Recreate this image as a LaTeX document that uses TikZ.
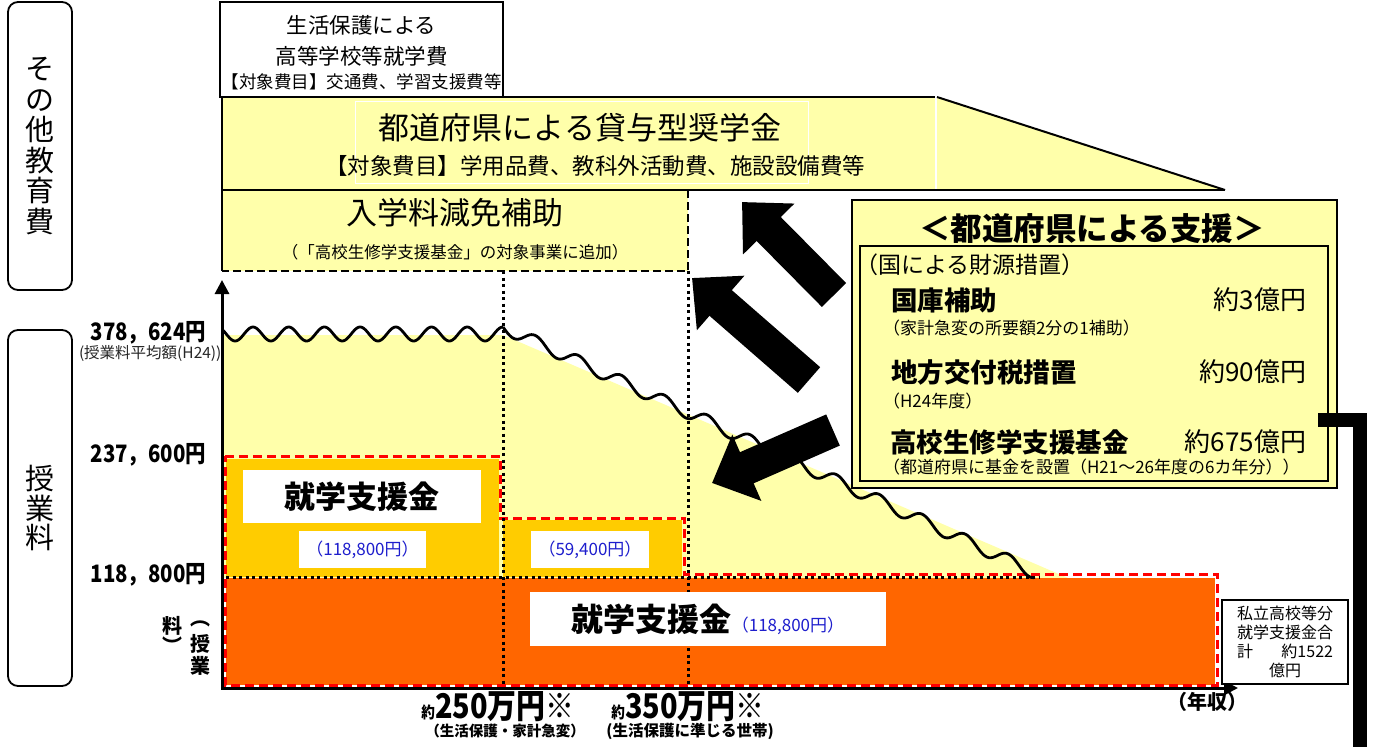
\documentclass[tikz,border=0pt]{standalone}
\usepackage{fontspec}
\setmainfont{Noto Sans CJK JP}
\newfontfamily\condf[FakeStretch=0.85]{Noto Sans CJK JP}
\usetikzlibrary{arrows.meta}
\definecolor{yelc}{RGB}{255,255,170}
\definecolor{goldc}{RGB}{255,204,0}
\definecolor{orgc}{RGB}{255,102,0}
\definecolor{bluec}{RGB}{30,30,205}
\newcommand\fsz[2]{\fontsize{#1}{#2}\selectfont}
\begin{document}
\begin{tikzpicture}[x=1pt,y=-1pt,
  every node/.style={inner sep=0pt,outer sep=0pt},
  sidebox/.style={draw,line width=1.8pt,rounded corners=10pt,minimum width=64pt,align=center},
  wbox/.style={fill=white},
  reddash/.style={draw=red,line width=3pt,dash pattern=on 9pt off 5pt},
  dotline/.style={line width=3pt,dash pattern=on 3pt off 3.5pt},
  blockarrow/.style={line width=34pt,-{Triangle[width=70pt,length=38pt]}},
  ylab/.style={anchor=east,font=\condf\bfseries\fsz{24}{26}},
  bigv/.style={font=\fsz{26}{28},anchor=east},
  bigb/.style={font=\bfseries\fsz{26.5}{28},anchor=west},
  smallr/.style={font=\fsz{17}{19},anchor=west}]
\fill[white] (0,0) rectangle (1375,747);
\useasboundingbox (0,0) rectangle (1375,747);

% left category boxes
\node[sidebox,minimum height=288pt,font=\fsz{29}{30.5}] (oth) at (40,146) {そ\\の\\他\\教\\育\\費};
\node[sidebox,minimum height=356pt,font=\fsz{29}{29.5}] (jgr) at (40,508) {授\\業\\料};

% top white box
\node[draw,fill=white,line width=2pt,minimum width=283pt,minimum height=95pt,anchor=north west] (hsb) at (220,2) {};
\node[font=\fsz{21.5}{24}] (hs1) at (361.5,25) {生活保護による};
\node[font=\fsz{21.5}{24}] (hs2) at (361.5,56) {高等学校等就学費};
\node[font=\fsz{17.5}{20}] (hs3) at (361.5,82) {【対象費目】交通費、学習支援費等};

% band 1
\fill[yelc] (222,97) rectangle (935,190);
\fill[yelc] (937,97) -- (1225,190) -- (937,190) -- cycle;
\draw[line width=2pt] (222,97) -- (935,97);
\draw[white,line width=1.5pt] (936,97) -- (936,190);
\draw[line width=2pt] (937,97) -- (1225,190);
\draw[white,line width=1pt] (355,101) rectangle (808,183);
\node[font=\fsz{31}{34}] (sh1) at (580,128) {都道府県による貸与型奨学金};
\node[font=\fsz{22.5}{25}] (sh2) at (595,166) {【対象費目】学用品費、教科外活動費、施設設備費等};

% band 2
\fill[yelc] (222,190) rectangle (688,271);
\draw[line width=2.5pt,dash pattern=on 8pt off 4pt] (688,190) -- (688,271) -- (222,271);
\draw[line width=2.5pt] (222,190) -- (1225,190);
\draw[line width=2pt] (222,97) -- (222,271);
\node[font=\fsz{31}{34}] (nyu1) at (455,213) {入学料減免補助};
\node[font=\fsz{16.5}{18}] (nyu2) at (455,252) {（「高校生修学支援基金」の対象事業に追加）};

% tuition area
\fill[yelc] (222,335) -- (503,335) -- (1068,578) -- (222,578) -- cycle;
\fill[goldc] (226,459) rectangle (499,577);
\fill[goldc] (503,520) rectangle (682,577);
\fill[orgc] (226,578) rectangle (1215,685);
\draw[reddash] (225,456) -- (500,456) -- (500,518) -- (684,518) -- (684,574) -- (1217,574) -- (1217,685) -- (225,685) -- cycle;
\draw[dotline] (226,577) -- (1040,577);
\draw[dotline] (503,271) -- (503,686);
\draw[dotline] (688,271) -- (688,686);

\node[wbox,minimum width=238pt,minimum height=53pt,font=\bfseries\fsz{31}{33}] (j1) at (362,496.5) {就学支援金};
\node[wbox,minimum width=127pt,minimum height=37pt,font=\fsz{17}{19},text=bluec] (j2) at (362.5,549.5) {（118,800円）};
\node[wbox,minimum width=118pt,minimum height=37pt,font=\fsz{17}{19},text=bluec] (j3) at (590,549.5) {（59,400円）};
\node[wbox,minimum width=356pt,minimum height=54pt] (j4) at (708,619) {{\bfseries\fsz{32}{34}就学支援金}{\color{bluec}\fsz{17}{19}（118,800円）}};

% wavy line
\draw[line width=2.8pt,line join=round] plot[domain=222:503,samples=250] (\x,{334-7*cos((\x-253)/35.7*360)});
\draw[line width=2.8pt,line join=round] plot[domain=503:1035,samples=300] (\x,{327+(\x-503)*0.462+6.5*sin((\x-503)/43*360)});

% axes
\draw[line width=3pt,{Triangle[width=14pt,length=14pt]}-{Triangle[width=14pt,length=14pt]}] (222,280) -- (222,688) -- (1238,688);

% y labels
\node[ylab] (y1) at (206,333) {378，624円};
\node[anchor=west,font=\fsz{15.5}{17},text=black!85] (y1s) at (79,353) {(授業料平均額(H24))};
\node[ylab] (y2) at (206,455) {237，600円};
\node[ylab] (y3) at (206,575) {118，800円};

% vertical (授業料)
\node[font=\bfseries\fsz{20}{22}] (v1) at (200,624) {︵};
\node[font=\bfseries\fsz{20}{22}] (v2) at (200,644) {授};
\node[font=\bfseries\fsz{20}{22}] (v3) at (200,666) {業};
\node[font=\bfseries\fsz{20}{22}] (v4) at (172,626) {料};
\node[font=\bfseries\fsz{20}{22}] (v5) at (172,645) {︶};

% bottom labels
\node[font=\condf\bfseries] (b1) at (498,707) {{\fsz{16}{18}約}{\fsz{34}{36}250万円※}};
\node[font=\bfseries\fsz{14.5}{16}] (b2) at (505,731) {（生活保護・家計急変）};
\node[font=\condf\bfseries] (b3) at (688,707) {{\fsz{16}{18}約}{\fsz{34}{36}350万円※}};
\node[font=\bfseries\fsz{15.5}{17}] (b4) at (690,731) {(生活保護に準じる世帯)};
\node[font=\bfseries\fsz{20}{22}] (nen) at (1207,702) {（年収）};

% private school box
\node[draw,fill=white,line width=1.5pt,minimum width=126pt,minimum height=84pt,align=center,font=\fsz{16}{19.2}] (pv) at (1285,642) {私立高校等分\\就学支援金合\\\makebox[96pt]{計\hfill 約1522}\\億円};

% right support box
\node[draw,fill=yelc,line width=2.5pt,minimum width=485pt,minimum height=288pt,anchor=north west] (rb) at (852,200) {};
\node[draw,line width=2.5pt,minimum width=468pt,minimum height=235pt,anchor=north west] (rbi) at (860,246) {};
\node[font=\bfseries\fsz{31.5}{34}] (rt) at (1092,229) {＜都道府県による支援＞};
\node[font=\fsz{23}{25},anchor=west] (r0) at (855,265) {（国による財源措置）};
\node[bigb] (r1) at (891,300) {国庫補助};
\node[bigv] (r1v) at (1306,300) {約3億円};
\node[smallr] (r1s) at (883,328) {（家計急変の所要額2分の1補助）};
\node[bigb] (r2) at (891,372) {地方交付税措置};
\node[bigv] (r2v) at (1306,372) {約90億円};
\node[smallr] (r2s) at (883,401) {（H24年度）};
\node[bigb] (r3) at (890,442) {高校生修学支援基金};
\node[bigv] (r3v) at (1306,442) {約675億円};
\node[smallr] (r3s) at (883,467) {（都道府県に基金を設置（H21～26年度の6カ年分））};

% block arrows
\coordinate (aAt) at (834,295); \coordinate (aAh) at (742,202);
\coordinate (aBt) at (809,380); \coordinate (aBh) at (692,278);
\coordinate (aCt) at (833,430); \coordinate (aCh) at (712,483);
\draw[blockarrow] (aAt) -- (aAh);
\draw[blockarrow] (aBt) -- (aBh);
\draw[blockarrow] (aCt) -- (aCh);

% right bracket bar
\coordinate (brA) at (1318,420); \coordinate (brB) at (1360,420); \coordinate (brC) at (1360,747);
\draw[line width=14pt] (brA) -- (brB) -- (brC);
\end{tikzpicture}
\end{document}
